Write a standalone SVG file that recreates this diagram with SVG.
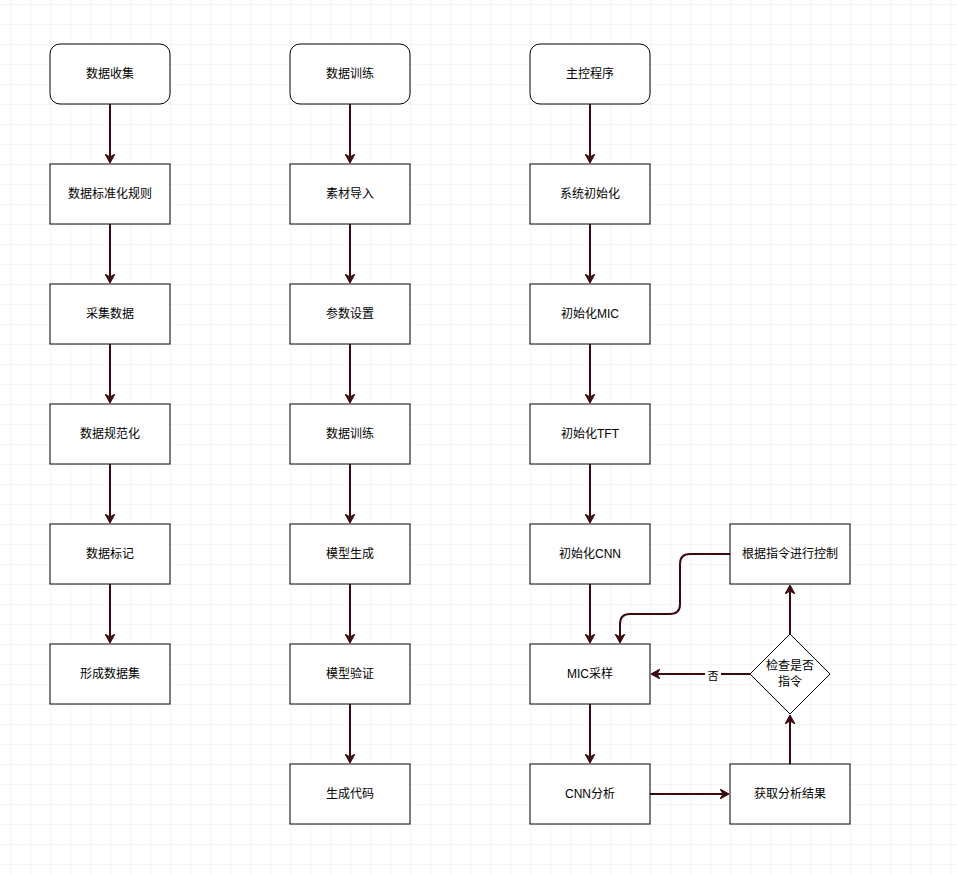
<svg xmlns="http://www.w3.org/2000/svg" width="957" height="875" viewBox="0 0 957 875">
<defs>
<pattern id="grid" width="20" height="20" patternUnits="userSpaceOnUse" x="10" y="4">
<path d="M20 0H0V20" fill="none" stroke="#ececec" stroke-width="1"/>
</pattern>
<marker id="ah" markerWidth="10" markerHeight="10" refX="8" refY="5" orient="auto" markerUnits="userSpaceOnUse">
<path d="M0,0 L9,5 L0,10 L3,5 Z" fill="#3a0a0f" stroke="#3a0a0f" stroke-width="1"/>
</marker>
</defs>
<style>
.n rect,.n polygon{fill:#fff;stroke:#000;stroke-width:1}
.n text{font-family:"Liberation Sans","Noto Sans CJK SC",sans-serif;font-size:12px;fill:#000;text-anchor:middle;dominant-baseline:central}
.c path{fill:none;stroke:#3a0a0f;stroke-width:2;marker-end:url(#ah)}
.lbl{font-family:"Liberation Sans","Noto Sans CJK SC",sans-serif;font-size:11px;fill:#000;text-anchor:middle;dominant-baseline:central}
</style>
<rect width="957" height="875" fill="#fff"/>
<rect width="957" height="875" fill="url(#grid)"/>
<g id="connectors" class="c">
<path d="M110 104V162"/>
<path d="M110 224V282"/>
<path d="M110 344V402"/>
<path d="M110 464V522"/>
<path d="M110 584V642"/>
<path d="M350 104V162"/>
<path d="M350 224V282"/>
<path d="M350 344V402"/>
<path d="M350 464V522"/>
<path d="M350 584V642"/>
<path d="M350 704V762"/>
<path d="M590 104V162"/>
<path d="M590 224V282"/>
<path d="M590 344V402"/>
<path d="M590 464V522"/>
<path d="M590 584V642"/>
<path d="M590 704V762"/>
<path d="M650 794H728"/>
<path d="M790 764V716"/>
<path d="M790 634V586"/>
<path d="M750 674H652"/>
<path d="M730 554H690Q680 554 680 564V604Q680 614 670 614H630Q620 614 620 624V642"/>
<rect x="705" y="668" width="16" height="14" fill="#fff" stroke="none" style="marker-end:none"/>
<text class="lbl" x="713" y="676">否</text>
</g>
<g id="n1" class="n"><rect x="50" y="44" width="120" height="60" rx="10"/><text x="110" y="74">数据收集</text></g>
<g id="n2" class="n"><rect x="50" y="164" width="120" height="60"/><text x="110" y="194">数据标准化规则</text></g>
<g id="n3" class="n"><rect x="50" y="284" width="120" height="60"/><text x="110" y="314">采集数据</text></g>
<g id="n4" class="n"><rect x="50" y="404" width="120" height="60"/><text x="110" y="434">数据规范化</text></g>
<g id="n5" class="n"><rect x="50" y="524" width="120" height="60"/><text x="110" y="554">数据标记</text></g>
<g id="n6" class="n"><rect x="50" y="644" width="120" height="60"/><text x="110" y="674">形成数据集</text></g>
<g id="m1" class="n"><rect x="290" y="44" width="120" height="60" rx="10"/><text x="350" y="74">数据训练</text></g>
<g id="m2" class="n"><rect x="290" y="164" width="120" height="60"/><text x="350" y="194">素材导入</text></g>
<g id="m3" class="n"><rect x="290" y="284" width="120" height="60"/><text x="350" y="314">参数设置</text></g>
<g id="m4" class="n"><rect x="290" y="404" width="120" height="60"/><text x="350" y="434">数据训练</text></g>
<g id="m5" class="n"><rect x="290" y="524" width="120" height="60"/><text x="350" y="554">模型生成</text></g>
<g id="m6" class="n"><rect x="290" y="644" width="120" height="60"/><text x="350" y="674">模型验证</text></g>
<g id="m7" class="n"><rect x="290" y="764" width="120" height="60"/><text x="350" y="794">生成代码</text></g>
<g id="k1" class="n"><rect x="530" y="44" width="120" height="60" rx="10"/><text x="590" y="74">主控程序</text></g>
<g id="k2" class="n"><rect x="530" y="164" width="120" height="60"/><text x="590" y="194">系统初始化</text></g>
<g id="k3" class="n"><rect x="530" y="284" width="120" height="60"/><text x="590" y="314">初始化MIC</text></g>
<g id="k4" class="n"><rect x="530" y="404" width="120" height="60"/><text x="590" y="434">初始化TFT</text></g>
<g id="k5" class="n"><rect x="530" y="524" width="120" height="60"/><text x="590" y="554">初始化CNN</text></g>
<g id="k6" class="n"><rect x="530" y="644" width="120" height="60"/><text x="590" y="674">MIC采样</text></g>
<g id="k7" class="n"><rect x="530" y="764" width="120" height="60"/><text x="590" y="794">CNN分析</text></g>
<g id="r1" class="n"><rect x="730" y="524" width="120" height="60"/><text x="790" y="554">根据指令进行控制</text></g>
<g id="r2" class="n"><polygon points="790,634 830,674 790,714 750,674"/><text x="790" y="666">检查是否</text><text x="790" y="682">指令</text></g>
<g id="r3" class="n"><rect x="730" y="764" width="120" height="60"/><text x="790" y="794">获取分析结果</text></g>
</svg>
